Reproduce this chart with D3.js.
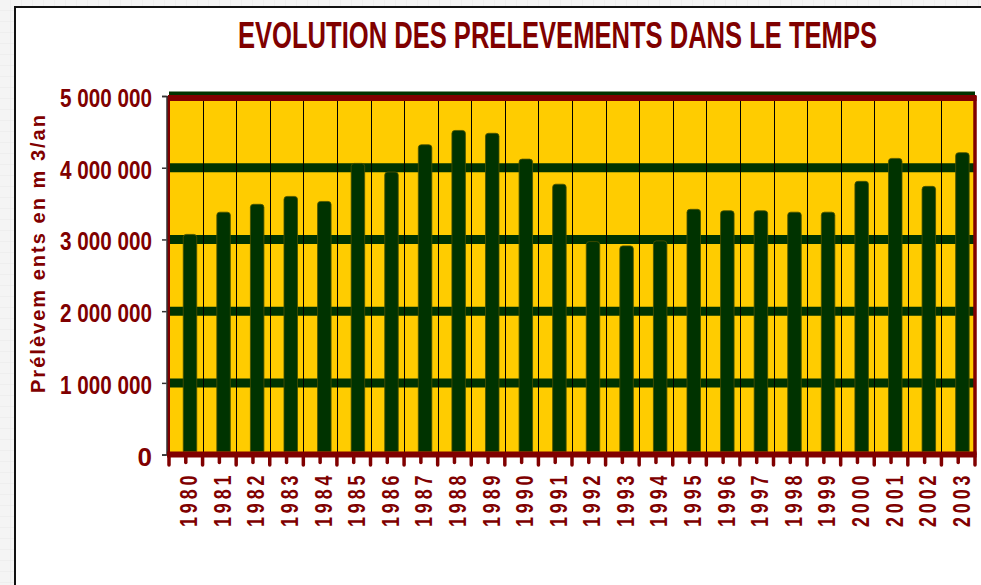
<!DOCTYPE html>
<html>
<head>
<meta charset="utf-8">
<script src="https://cdn.jsdelivr.net/npm/d3@7"></script>
<style>
  html, body { margin: 0; padding: 0; background: #f3f3f3; }
  svg { display: block; }
  .lbl { font-family: "Liberation Sans Narrow", "Arial Narrow", "Liberation Sans", Arial, sans-serif; font-weight: bold; fill: #800000; }
</style>
</head>
<body>
<div id="container"></div>
<script>
// chart data
var years = ["1980", "1981", "1982", "1983", "1984", "1985", "1986", "1987", "1988", "1989", "1990", "1991",
             "1992", "1993", "1994", "1995", "1996", "1997", "1998", "1999", "2000", "2001", "2002", "2003"];
var prelevements = [3070000, 3380000, 3490000, 3600000, 3530000, 4060000, 3940000, 4320000, 4520000, 4480000, 4120000, 3770000,
                    2970000, 2910000, 2980000, 3420000, 3400000, 3400000, 3380000, 3380000, 3810000, 4130000, 3740000, 4210000];
var yTicks = [0, 1000000, 2000000, 3000000, 4000000, 5000000];

var width = 981, height = 585;
var plotL = 169, plotR = 975, plotT = 96, plotB = 454.6;
var darkRed = "#800000", green = "#003300", yellow = "#ffcc00";

var svg = d3.select("#container").append("svg")
    .attr("width", width)
    .attr("height", height);

// spreadsheet-like background outside the chart frame
var defs = svg.append("defs");
var pat = defs.append("pattern")
    .attr("id", "cells")
    .attr("width", 11).attr("height", 11)
    .attr("patternUnits", "userSpaceOnUse");
pat.append("rect").attr("width", 11).attr("height", 11).attr("fill", "#f4f4f4");
pat.append("path").attr("d", "M11,0V11H0").attr("fill", "none").attr("stroke", "#e8e8e8");
svg.append("rect").attr("width", width).attr("height", height).attr("fill", "url(#cells)");

// chart frame
svg.append("rect")
    .attr("x", 15).attr("y", 7)
    .attr("width", width).attr("height", height)
    .attr("fill", "#fff")
    .attr("stroke", "#111")
    .attr("stroke-width", 2);

var x = d3.scaleBand().domain(years).range([plotL, plotR]);
var y = d3.scaleLinear().domain([0, 5000000]).range([plotB, plotT]);
var fmt = function(v) { return d3.format(",")(v).replace(/,/g, " "); };

// title
svg.append("text")
    .attr("class", "lbl")
    .attr("x", 557.5).attr("y", 48)
    .attr("text-anchor", "middle")
    .attr("textLength", 639)
    .attr("lengthAdjust", "spacingAndGlyphs")
    .style("font-size", "36px")
    .text("EVOLUTION DES PRELEVEMENTS DANS LE TEMPS");

// plot area
svg.append("rect")
    .attr("x", plotL).attr("y", plotT)
    .attr("width", plotR - plotL).attr("height", plotB - plotT)
    .attr("fill", yellow);

// thick horizontal gridlines
svg.append("g").selectAll("line")
  .data(yTicks.filter(function(d) { return d > 0; }))
  .enter().append("line")
    .attr("x1", plotL).attr("x2", plotR)
    .attr("y1", function(d) { return y(d); })
    .attr("y2", function(d) { return y(d); })
    .attr("stroke", green)
    .attr("stroke-width", 9);

// thin vertical lines between categories
svg.append("g").selectAll("line")
  .data(years.slice(1))
  .enter().append("line")
    .attr("x1", function(d) { return Math.round(x(d)) + 0.5; })
    .attr("x2", function(d) { return Math.round(x(d)) + 0.5; })
    .attr("y1", plotT).attr("y2", plotB)
    .attr("stroke", "#000")
    .attr("stroke-width", 1);

// bars with rounded tops
var bw = 13.5, rr = 3;
function barPath(d, i) {
  var cx = x(years[i]) + x.bandwidth() / 2 + 4.2;
  var x0 = cx - bw / 2, x1 = cx + bw / 2, yt = y(d), yb = plotB - 3;
  return "M" + x0 + "," + yb +
         "V" + (yt + rr) +
         "Q" + x0 + "," + yt + " " + (x0 + rr) + "," + yt +
         "H" + (x1 - rr) +
         "Q" + x1 + "," + yt + " " + x1 + "," + (yt + rr) +
         "V" + yb + "Z";
}
svg.append("g").selectAll("path")
  .data(prelevements)
  .enter().append("path")
    .attr("d", barPath)
    .attr("fill", green)
    .attr("stroke", "#4a5200")
    .attr("stroke-width", 0.8);

// plot borders
svg.append("line")
    .attr("x1", plotL - 1).attr("x2", plotR + 1.5)
    .attr("y1", plotT + 2).attr("y2", plotT + 2)
    .attr("stroke", darkRed).attr("stroke-width", 6);
svg.append("line")
    .attr("x1", plotL - 0.5).attr("x2", plotL - 0.5)
    .attr("y1", plotT).attr("y2", plotB)
    .attr("stroke", darkRed).attr("stroke-width", 3);
svg.append("line")
    .attr("x1", plotR).attr("x2", plotR)
    .attr("y1", plotT).attr("y2", plotB)
    .attr("stroke", darkRed).attr("stroke-width", 3.5);

// y axis
var yAxis = svg.append("g")
    .attr("transform", "translate(" + (plotL - 2.5) + ",0)")
    .call(d3.axisLeft(y).tickValues(yTicks).tickFormat(fmt).tickSize(4.5).tickPadding(10));
yAxis.select(".domain").attr("stroke", "#333").attr("stroke-width", 1.5);
yAxis.selectAll(".tick line").attr("stroke", "#333").attr("stroke-width", 1.5);
yAxis.selectAll(".tick text")
    .attr("class", "lbl")
    .attr("dy", "0.4em")
    .style("font-size", "26px")
    .each(function(d) {
      // condensed look of the original font
      if (d > 0) d3.select(this).attr("textLength", 92).attr("lengthAdjust", "spacingAndGlyphs");
    });

// x axis: minor ticks at category centres, major ticks at boundaries
var xAxis = svg.append("g")
    .attr("transform", "translate(0," + plotB + ")")
    .call(d3.axisBottom(x).tickSize(8).tickFormat(""));
xAxis.select(".domain").remove();
xAxis.selectAll(".tick line")
    .attr("stroke", darkRed).attr("stroke-width", 3.5).attr("stroke-linecap", "round");
svg.append("g").selectAll("line")
  .data(years.concat(["end"]))
  .enter().append("line")
    .attr("x1", function(d, i) { return plotL + i * x.step(); })
    .attr("x2", function(d, i) { return plotL + i * x.step(); })
    .attr("y1", plotB).attr("y2", plotB + 10.5)
    .attr("stroke", darkRed).attr("stroke-width", 3.5).attr("stroke-linecap", "round");
svg.append("line")
    .attr("x1", plotL - 2).attr("x2", plotR + 1.5)
    .attr("y1", plotB).attr("y2", plotB)
    .attr("stroke", darkRed).attr("stroke-width", 6);

// rotated year labels, condensed and letter-spaced
svg.append("g").selectAll("text")
  .data(years)
  .enter().append("text")
    .attr("class", "lbl")
    .attr("transform", function(d) { return "translate(" + (x(d) + x.bandwidth() / 2 + 11.5) + ",527) rotate(-90) scale(0.78,1)"; })
    .style("font-size", "23px")
    .style("letter-spacing", "5px")
    .text(function(d) { return d; });

// y axis title
svg.append("text")
    .attr("class", "lbl")
    .attr("transform", "translate(45,393) rotate(-90)")
    .attr("textLength", 278)
    .attr("lengthAdjust", "spacing")
    .style("font-size", "20px")
    .text("Prélèvem ents en m 3/an");
</script>
</body>
</html>
